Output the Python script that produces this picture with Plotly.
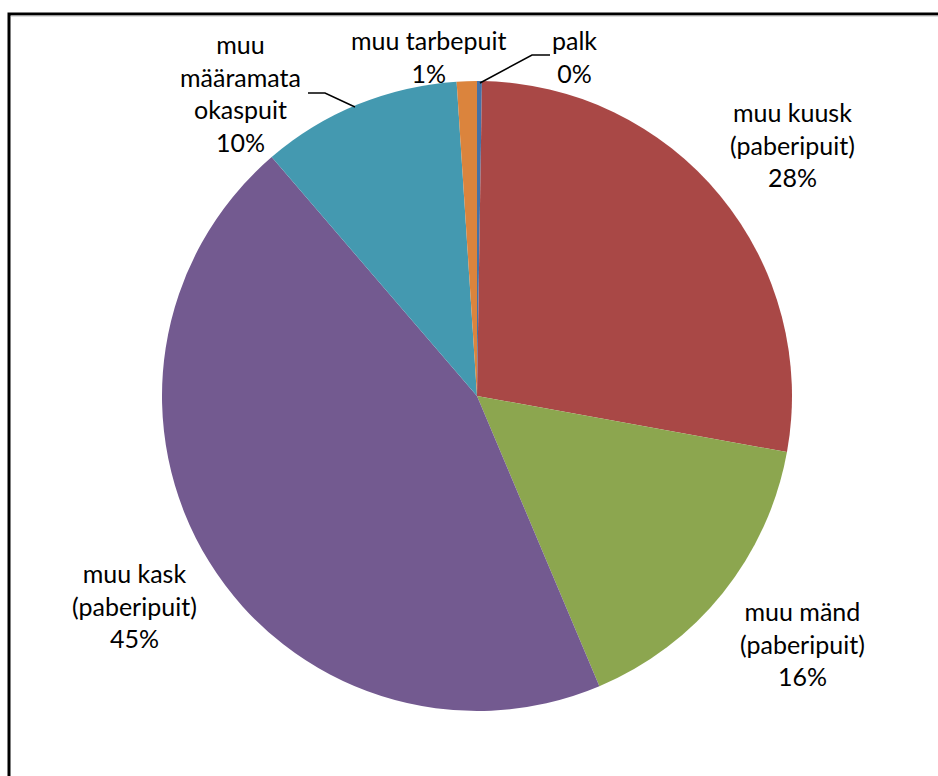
import plotly.graph_objects as go

# ---- data ----
labels = ["palk", "muu kuusk (paberipuit)", "muu mänd (paberipuit)",
          "muu kask (paberipuit)", "muu määramata okaspuit", "muu tarbepuit"]
label_lines = [["palk"], ["muu kuusk", "(paberipuit)"], ["muu mänd", "(paberipuit)"],
               ["muu kask", "(paberipuit)"], ["muu", "määramata", "okaspuit"], ["muu tarbepuit"]]
values = [0.25, 27.6, 15.8, 45.05, 10.27, 1.03]
colors = ["#4472A8", "#A94846", "#8CA64F", "#735A90", "#4499B0", "#DB843D"]

W, H = 938, 776
FONT = "Lato, Calibri, sans-serif"

def px(x, y):
    """screen pixel -> paper coords"""
    return x / W, 1 - y / H

cx, cy, r = 477, 396, 315
x0, y1 = px(cx - r, cy - r)
x1, y0 = px(cx + r, cy + r)

fig = go.Figure(go.Pie(
    labels=labels, values=values, sort=False, direction="clockwise", rotation=0,
    marker=dict(colors=colors, line=dict(width=0)),
    textinfo="none", hoverinfo="label+percent", showlegend=False,
    domain=dict(x=[x0, x1], y=[y0, y1]),
))

# label placement (screen pixel centers)
label_pos = [(574, 57), (792, 144), (802, 643), (134, 605), (240, 93), (428, 57)]
total = sum(values)
annotations = []
for lines, v, (lx, ly) in zip(label_lines, values, label_pos):
    pct = f"{round(100 * v / total):.0f}%"
    text = "<br>".join(lines + [pct])
    ax, ay = px(lx, ly)
    annotations.append(dict(x=ax, y=ay, xref="paper", yref="paper", text=text,
                            showarrow=False, xanchor="center", yanchor="middle",
                            align="center", font=dict(family=FONT, size=25, color="#000000")))

def path(points):
    s = ""
    for i, (x, y) in enumerate(points):
        X, Y = px(x, y)
        s += ("M" if i == 0 else "L") + f"{X},{Y} "
    return s

shapes = [
    dict(type="path", xref="paper", yref="paper",
         path=path([(308, 93), (325, 93), (355, 107)]), line=dict(color="black", width=1.5)),
    dict(type="path", xref="paper", yref="paper",
         path=path([(480, 83), (532, 55), (550, 55)]), line=dict(color="black", width=1.5)),
    # chart frame: only left and top edges are visible in the window
    dict(type="path", xref="paper", yref="paper",
         path=path([(9, 800), (9, 14), (960, 14)]), line=dict(color="black", width=3)),
    dict(type="path", xref="paper", yref="paper",
         path=path([(11, 16), (960, 16)]), line=dict(color="#BBBBBB", width=1)),
]

fig.update_layout(width=W, height=H, margin=dict(l=0, r=0, t=0, b=0),
                  paper_bgcolor="white", plot_bgcolor="white",
                  annotations=annotations, shapes=shapes, showlegend=False)

fig.write_html(
    "out.html",
    config={"displayModeBar": False},
    post_script=("document.documentElement.style.overflow='hidden';"
                 "document.body.style.margin='0';document.body.style.overflow='hidden';"),
)
